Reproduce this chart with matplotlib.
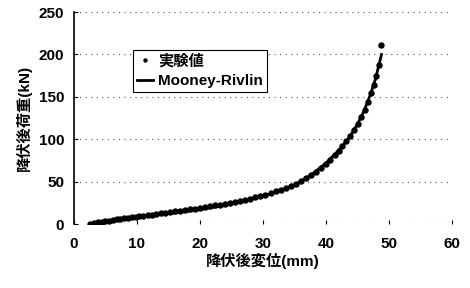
import matplotlib.pyplot as plt

plt.rcParams['font.family'] = ['Liberation Sans', 'Noto Sans CJK JP']
plt.rcParams['font.weight'] = 'bold'

# ---------------------- Data ----------------------

# experimental points (displacement mm, load kN)
exp_x = [2.6, 3.2, 3.8, 4.4, 5.0, 5.6, 6.2, 6.8, 7.4, 8.0, 8.6, 9.2, 9.8, 10.4,
         11.0, 11.7, 12.4, 13.1, 13.8, 14.5, 15.2, 16.0, 16.8, 17.6, 18.4, 19.2,
         20.0, 20.8, 21.6, 22.4, 23.2, 24.0, 24.8, 25.6, 26.4, 27.2, 28.0, 28.8,
         29.6, 30.4, 31.2, 32.0, 32.8, 33.6, 34.4, 35.2, 36.0, 36.8, 37.6, 38.4,
         39.2, 40.0, 40.7, 41.4, 42.0, 42.6, 43.2, 43.8, 44.4, 45.0, 45.6, 46.2,
         46.7, 47.2, 47.6, 48.0, 48.4, 48.7]
exp_y = [0.5, 1.5, 2.0, 3.0, 3.5, 4.0, 5.0, 5.5, 6.0, 7.0, 7.5, 8.0, 8.5, 9.0,
         9.5, 10.5, 11.0, 12.0, 12.5, 13.0, 14.0, 15.0, 15.5, 16.5, 17.5, 18.0,
         19.0, 20.0, 21.0, 22.0, 23.0, 24.0, 25.0, 26.5, 27.5, 28.5, 30.0, 31.5,
         33.0, 34.5, 36.5, 38.5, 40.5, 42.5, 45.0, 47.5, 50.5, 54.0, 57.5, 61.5,
         66.0, 71.0, 76.0, 81.0, 86.5, 92.0, 98.0, 104.0, 111.0, 118.0, 126.0, 135.0,
         144.0, 154.0, 164.0, 175.0, 188.0, 211.0]

# Mooney-Rivlin fit
mr_x = [2.5, 5.0, 8.0, 10.0, 13.0, 16.0, 20.0, 24.0, 28.0, 31.0, 34.0, 36.0,
        38.0, 40.0, 42.0, 43.5, 45.0, 46.0, 47.0, 47.8, 48.4, 48.8]
mr_y = [0.0, 2.5, 5.5, 7.5, 10.5, 13.0, 17.0, 22.0, 29.0, 35.0, 43.0, 50.0,
        60.0, 72.0, 87.0, 100.0, 118.0, 133.0, 152.0, 170.0, 188.0, 200.0]

x_ticks = [0, 10, 20, 30, 40, 50, 60]
y_ticks = [0, 50, 100, 150, 200, 250]

# ---------------------- Plot ----------------------

fig = plt.figure(figsize=(4.70, 2.88), dpi=100)
ax = fig.add_axes([0.157, 0.222, 0.805, 0.736])

for yv in y_ticks:
    ax.axhline(yv, color='#555555', linestyle=(0, (1, 4)), linewidth=0.8, zorder=0)

ax.plot(exp_x, exp_y, linestyle='none', marker='o', markersize=3.6,
        color='black', label='実験値', zorder=3)
ax.plot(mr_x, mr_y, color='black', linewidth=2.0, label='Mooney-Rivlin', zorder=2)

ax.set_xlim(0, 60)
ax.set_ylim(0, 250)
ax.set_xticks(x_ticks)
ax.set_yticks(y_ticks)

for side in ['top', 'right', 'bottom']:
    ax.spines[side].set_visible(False)
ax.spines['left'].set_linewidth(1.2)
ax.tick_params(axis='y', direction='in', length=3, labelsize=11, pad=7)
ax.tick_params(axis='x', direction='in', length=3, labelsize=11, pad=9)

ax.set_xlabel('降伏後変位(mm)', fontsize=11, fontweight='bold', labelpad=2)
ax.set_ylabel('降伏後荷重(kN)', fontsize=11, fontweight='bold', labelpad=5)

leg = ax.legend(loc='upper left', bbox_to_anchor=(0.156, 0.82), fontsize=11,
                frameon=True, fancybox=False, framealpha=1, edgecolor='black',
                borderpad=0.25, handlelength=1.1, handletextpad=0.3,
                labelspacing=0.35, borderaxespad=0, markerscale=0.6)
leg.get_frame().set_linewidth(0.8)

fig.savefig('out.png', dpi=100)
